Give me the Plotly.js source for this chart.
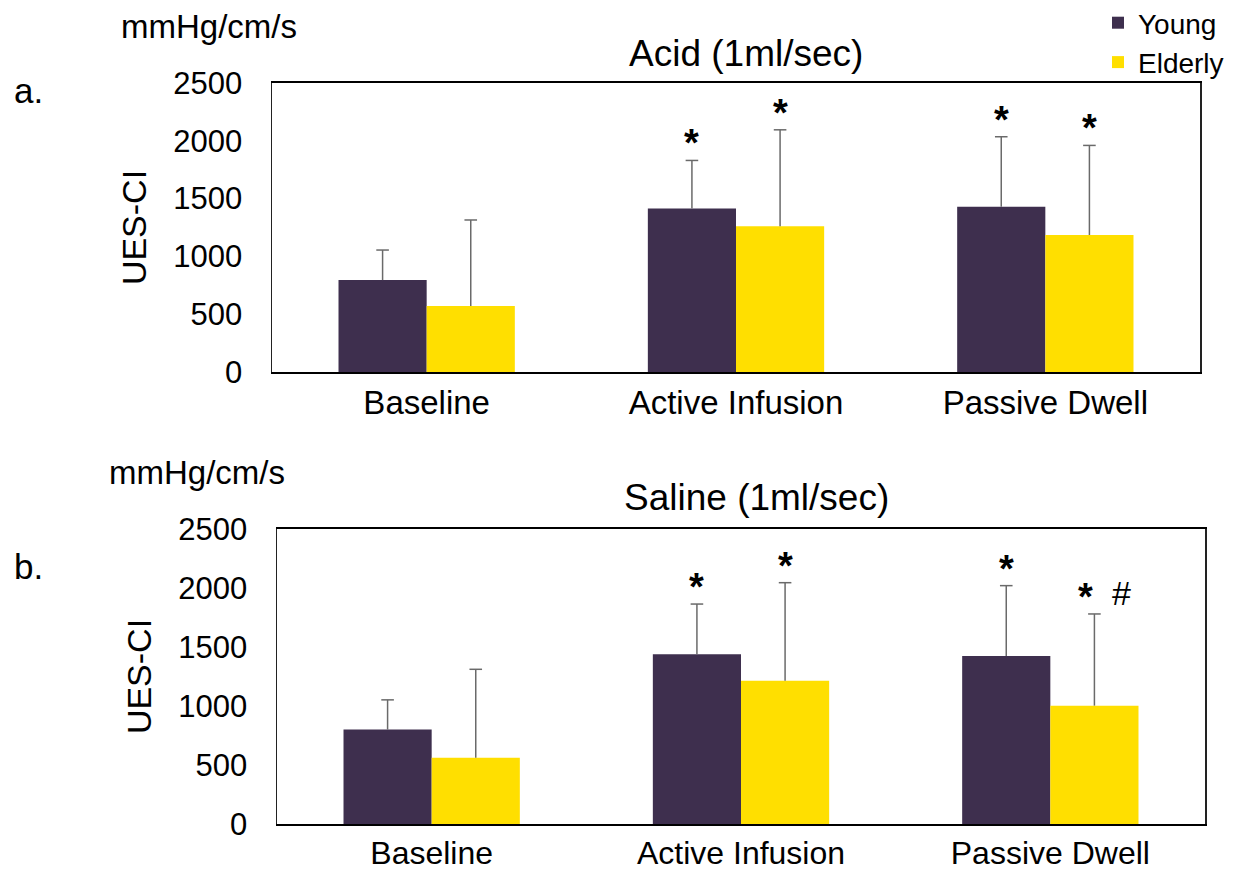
<!DOCTYPE html>
<html>
<head>
<meta charset="utf-8">
<script src="https://cdn.plot.ly/plotly-3.0.1.min.js"></script>
<style>html,body{margin:0;padding:0;background:#fff;}#chart{width:1248px;height:871px;}</style>
</head>
<body>
<div id="chart"></div>
<script>
// ---- data ----
const categories = ['Baseline', 'Active Infusion', 'Passive Dwell'];
const seriesNames = ['Young', 'Elderly'];

const acidYoung = [795, 1415, 1430];
const acidYoungErr = [260, 415, 605];
const acidElderly = [570, 1260, 1185];
const acidElderlyErr = [745, 835, 775];

const salineYoung = [800, 1438, 1424];
const salineYoungErr = [252, 426, 596];
const salineElderly = [562, 1215, 1003];
const salineElderlyErr = [749, 830, 777];

const acidSigYoung = ['', '*', '*'];
const acidSigElderly = ['', '*', '*'];
const salineSigYoung = ['', '*', '*'];
const salineSigElderly = ['', '*', '*'];
const salineHashElderly = ['', '', '#'];

const yTicks = [0, 500, 1000, 1500, 2000, 2500];

const panelTitles = ['Acid (1ml/sec)', 'Saline (1ml/sec)'];
const panelLetters = ['a.', 'b.'];
const unitLabel = 'mmHg/cm/s';
const yTitle = 'UES-CI';

// ---- style ----
const FONT = 'Liberation Sans, Arial, sans-serif';
const cYoung = '#3e2f4e';
const cElderly = '#ffdf00';
const cErr = '#6a6a6a';
const bargap = 0.43;
const W = 1248, H = 871;

function errObj(arr) {
  return {type: 'data', symmetric: false, array: arr, arrayminus: arr.map(() => 0),
          color: cErr, thickness: 1.5, width: 0, visible: true};
}
function add(a, b) { return a.map((v, i) => v + b[i]); }

function panel(xa, ya, young, youngErr, elderly, elderlyErr, showLegend, ag) {
  return [
    {type: 'bar', name: seriesNames[0], x: categories, y: young, marker: {color: cYoung},
     error_y: errObj(youngErr), xaxis: xa, yaxis: ya, legendgroup: 'y', showlegend: showLegend,
     offsetgroup: 'young', alignmentgroup: ag},
    {type: 'bar', name: seriesNames[1], x: categories, y: elderly, marker: {color: cElderly},
     error_y: errObj(elderlyErr), xaxis: xa, yaxis: ya, legendgroup: 'e', showlegend: showLegend,
     offsetgroup: 'elderly', alignmentgroup: ag},
    // error-bar caps (upper end only)
    {type: 'scatter', mode: 'markers', x: categories, y: add(young, youngErr), xaxis: xa, yaxis: ya,
     marker: {symbol: 'line-ew', size: 9, color: cErr, line: {color: cErr, width: 1.5}},
     showlegend: false, hoverinfo: 'skip', offsetgroup: 'young', alignmentgroup: ag},
    {type: 'scatter', mode: 'markers', x: categories, y: add(elderly, elderlyErr), xaxis: xa, yaxis: ya,
     marker: {symbol: 'line-ew', size: 9, color: cErr, line: {color: cErr, width: 1.5}},
     showlegend: false, hoverinfo: 'skip', offsetgroup: 'elderly', alignmentgroup: ag}
  ];
}

const traces = [].concat(
  panel('x', 'y', acidYoung, acidYoungErr, acidElderly, acidElderlyErr, true, 'acid'),
  panel('x2', 'y2', salineYoung, salineYoungErr, salineElderly, salineElderlyErr, false, 'saline')
);

// pixel -> paper helpers
const px = v => v / W;
const py = v => 1 - v / H;

const annotations = [];
const off = (1 - bargap) / 4;

function sig(texts, vals, errs, xr, yr, dx, shifts) {
  texts.forEach((t, i) => {
    if (!t) return;
    annotations.push({xref: xr, yref: yr, x: i + dx, y: vals[i] + errs[i], text: '<b>' + t + '</b>',
      showarrow: false, yanchor: 'bottom', xanchor: 'center', yshift: -6, xshift: shifts ? shifts[i] : 0,
      font: {family: FONT, size: 38, color: '#000'}});
  });
}
sig(acidSigYoung, acidYoung, acidYoungErr, 'x', 'y', -off);
sig(acidSigElderly, acidElderly, acidElderlyErr, 'x', 'y', off);
sig(salineSigYoung, salineYoung, salineYoungErr, 'x2', 'y2', -off);
sig(salineSigElderly, salineElderly, salineElderlyErr, 'x2', 'y2', off, salineHashElderly.map(h => h ? -9 : 0));
salineHashElderly.forEach((t, i) => {
  if (!t) return;
  annotations.push({xref: 'x2', yref: 'y2', x: i + off, y: salineElderly[i] + salineElderlyErr[i],
    text: t, showarrow: false, yanchor: 'bottom', xanchor: 'center', yshift: 0, xshift: 27,
    font: {family: FONT, size: 34, color: '#000'}});
});

// panel titles, unit labels, letters
annotations.push(
  {xref: 'paper', yref: 'paper', x: px(746), y: py(53), text: panelTitles[0], showarrow: false,
   xanchor: 'center', yanchor: 'middle', font: {family: FONT, size: 37, color: '#000'}},
  {xref: 'paper', yref: 'paper', x: px(756), y: py(497), text: panelTitles[1], showarrow: false,
   xanchor: 'center', yanchor: 'middle', font: {family: FONT, size: 37, color: '#000'}},
  {xref: 'paper', yref: 'paper', x: px(119), y: py(27), text: unitLabel, showarrow: false,
   xanchor: 'left', yanchor: 'middle', font: {family: FONT, size: 33, color: '#000'}},
  {xref: 'paper', yref: 'paper', x: px(107), y: py(472), text: unitLabel, showarrow: false,
   xanchor: 'left', yanchor: 'middle', font: {family: FONT, size: 33, color: '#000'}},
  {xref: 'paper', yref: 'paper', x: px(12), y: py(91), text: panelLetters[0], showarrow: false,
   xanchor: 'left', yanchor: 'middle', font: {family: FONT, size: 35, color: '#000'}},
  {xref: 'paper', yref: 'paper', x: px(12), y: py(566), text: panelLetters[1], showarrow: false,
   xanchor: 'left', yanchor: 'middle', font: {family: FONT, size: 35, color: '#000'}}
);

const xCommon = {type: 'category', showline: true, linecolor: '#000', linewidth: 2, mirror: true,
  ticks: '', showgrid: false, zeroline: false, range: [-0.5, 2.5], automargin: false,
  tickfont: {family: FONT, size: 33, color: '#000'}, fixedrange: true};
const yCommon = {range: [0, 2500], tickvals: yTicks, showline: true, linecolor: '#222', linewidth: 1.5,
  mirror: true, ticks: '', showgrid: false, zeroline: false, ticklabelstandoff: 22, automargin: false,
  tickfont: {family: FONT, size: 31, color: '#000'}, fixedrange: true,
  title: {text: yTitle, font: {family: FONT, size: 34, color: '#000'}, standoff: 16}};

const layout = {
  width: W, height: H,
  margin: {l: 0, r: 0, t: 0, b: 0, autoexpand: false},
  paper_bgcolor: '#fff', plot_bgcolor: '#fff',
  barmode: 'group', bargap: bargap, bargroupgap: 0,
  scattermode: 'group', scattergap: bargap,
  showlegend: true,
  legend: {x: px(1098), y: py(-2), xanchor: 'left', yanchor: 'top', bgcolor: 'rgba(0,0,0,0)',
    font: {family: FONT, size: 28, color: '#000'}, tracegroupgap: 0, traceorder: 'normal'},
  xaxis: Object.assign({}, xCommon, {domain: [px(272), px(1200)], anchor: 'y'}),
  yaxis: Object.assign({}, yCommon, {domain: [py(372), py(83)], anchor: 'x'}),
  xaxis2: Object.assign({}, xCommon, {domain: [px(277), px(1205)], anchor: 'y2',
    tickfont: {family: FONT, size: 32, color: '#000'}}),
  yaxis2: Object.assign({}, yCommon, {domain: [py(824), py(529)], anchor: 'x2'}),
  annotations: annotations,
  font: {family: FONT, color: '#000'}
};

Plotly.newPlot('chart', traces, layout, {displayModeBar: false, staticPlot: true});
</script>
</body>
</html>
